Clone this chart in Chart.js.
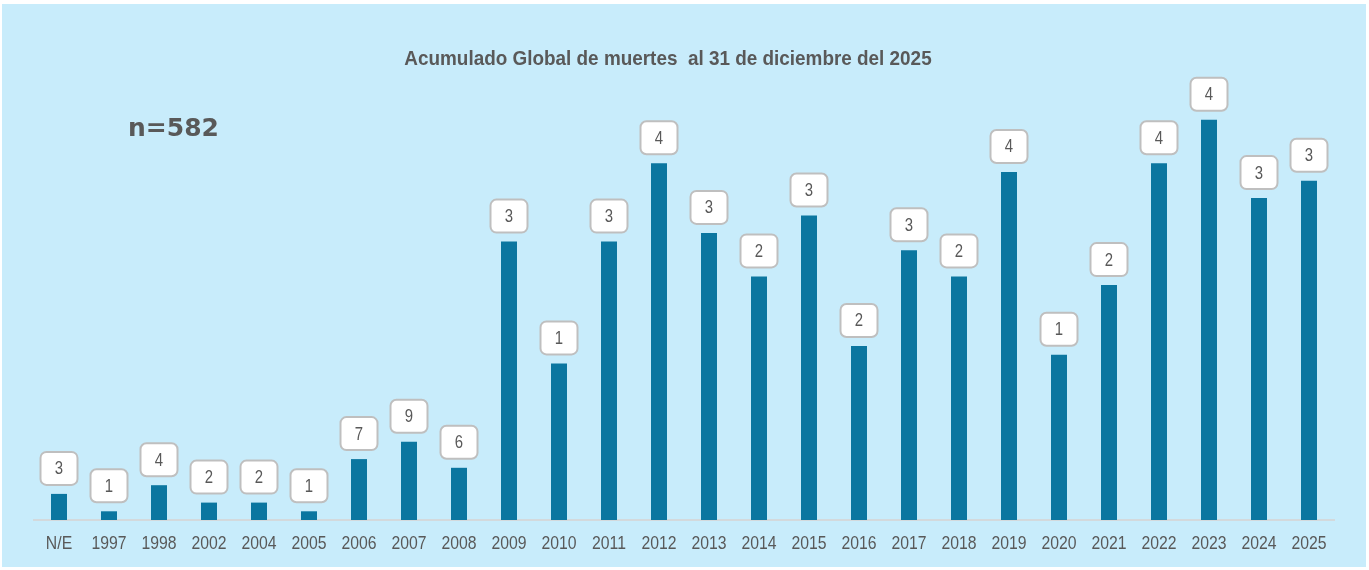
<!DOCTYPE html>
<html>
<head>
<meta charset="utf-8">
<script src="https://cdn.jsdelivr.net/npm/chart.js@4.4.1/dist/chart.umd.min.js"></script>
<style>
  html, body { margin: 0; padding: 0; background: #ffffff; }
  #wrap { position: absolute; left: 2px; top: 4px; width: 1364px; height: 563px; background: #c8ecfb; }
</style>
</head>
<body>
<div id="wrap"><canvas id="myChart" width="1364" height="563"></canvas></div>
<script>
const categories = ['N/E', '1997', '1998', '2002', '2004', '2005', '2006', '2007', '2008', '2009', '2010', '2011', '2012',
    '2013', '2014', '2015', '2016', '2017', '2018', '2019', '2020', '2021', '2022', '2023', '2024', '2025'];
const deaths = [3, 1, 4, 2, 2, 1, 7, 9, 6, 32, 18, 32, 41, 33, 28, 35, 20, 31, 28, 40, 19, 27, 41, 46, 37, 39];
const totalText = 'n=582';
const titleText = 'Acumulado Global de muertes  al 31 de diciembre del 2025';

// the label boxes in the original only show the first digit
const shownLabels = deaths.map(v => String(v).charAt(0));

const textGray = '#595959';
const sans = '"Liberation Sans", Arial, sans-serif';

// no narrow font installed, so squeeze the text horizontally
function narrowText(ctx, txt, x, y, squeeze) {
    ctx.save();
    ctx.translate(x, y);
    ctx.scale(squeeze, 1);
    ctx.fillText(txt, 0, 0);
    ctx.restore();
}

const boxLabels = {
    id: 'boxLabels',
    afterDatasetsDraw(chart) {
        const ctx = chart.ctx;
        const meta = chart.getDatasetMeta(0);
        const xs = chart.scales.x;
        ctx.save();
        meta.data.forEach((bar, i) => {
            const w = 37, h = 33;
            const x = bar.x - w / 2;
            const y = bar.y - 9 - h;
            ctx.beginPath();
            ctx.roundRect(x, y, w, h, 6);
            ctx.fillStyle = '#ffffff';
            ctx.fill();
            ctx.lineWidth = 2;
            ctx.strokeStyle = '#bfbfbf';
            ctx.stroke();
            ctx.fillStyle = textGray;
            ctx.font = '18px ' + sans;
            ctx.textAlign = 'center';
            ctx.textBaseline = 'middle';
            narrowText(ctx, shownLabels[i], bar.x, y + h / 2 + 1, 0.83);
        });
        // category labels under the axis
        ctx.font = '19px ' + sans;
        ctx.textAlign = 'center';
        ctx.textBaseline = 'middle';
        ctx.fillStyle = textGray;
        categories.forEach((c, i) => {
            narrowText(ctx, c, xs.getPixelForValue(i), xs.top + 24, 0.83);
        });
        ctx.restore();
    }
};

const extraText = {
    id: 'extraText',
    afterDraw(chart) {
        const ctx = chart.ctx;
        ctx.save();
        ctx.fillStyle = textGray;
        ctx.textBaseline = 'alphabetic';
        ctx.textAlign = 'center';
        ctx.font = 'bold 21px ' + sans;
        narrowText(ctx, titleText, 666, 61, 0.9);
        ctx.textAlign = 'left';
        ctx.font = 'bold 25px "DejaVu Sans", sans-serif';
        ctx.fillText(totalText, 126, 132);
        ctx.restore();
    }
};

const ctx = document.getElementById('myChart').getContext('2d');
const chart = new Chart(ctx, {
    type: 'bar',
    data: {
        labels: categories,
        datasets: [{
            data: deaths,
            backgroundColor: '#0b76a0',
            borderWidth: 0,
            barPercentage: 0.32,
            categoryPercentage: 1
        }]
    },
    options: {
        responsive: false,
        animation: false,
        layout: { padding: { left: 32, right: 32, top: 81, bottom: 0 } },
        scales: {
            x: {
                grid: { display: false, drawTicks: false },
                border: { display: true, color: '#d3d9dc', width: 2 },
                ticks: { display: false },
                afterFit: s => { s.height = 47; }
            },
            y: {
                display: false,
                min: 0,
                max: 50
            }
        },
        plugins: {
            legend: { display: false },
            title: { display: false },
            tooltip: { enabled: false }
        }
    },
    plugins: [boxLabels, extraText]
});
</script>
</body>
</html>
